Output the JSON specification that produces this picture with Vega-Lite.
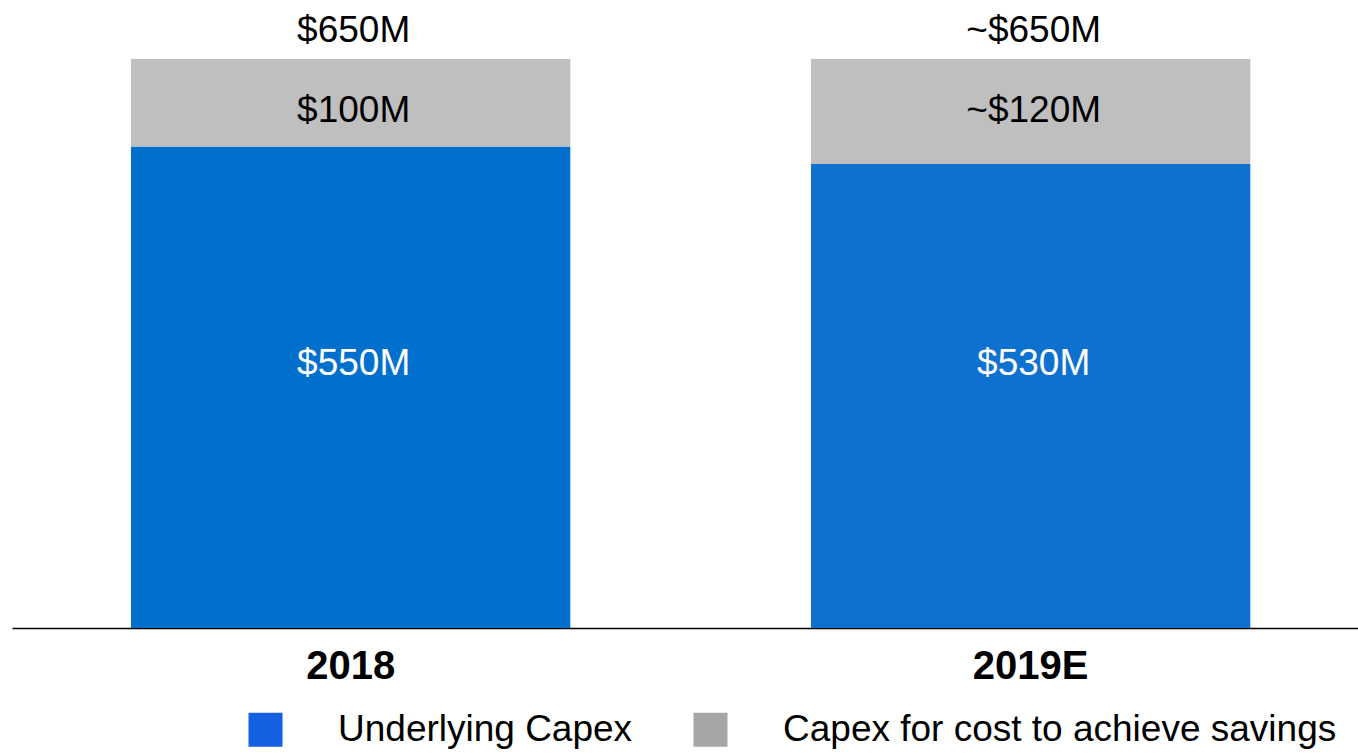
{
  "$schema": "https://vega.github.io/schema/vega-lite/v6.json",
  "width": 1346,
  "height": 569,
  "autosize": {"type": "none"},
  "padding": {"left": 12, "top": 59, "right": 0, "bottom": 125},
  "background": "white",
  "config": {"view": {"stroke": null}, "font": "Liberation Sans"},
  "datasets": {
    "bars": [
      {"year": "2018", "segment": "Underlying Capex", "series": "2018 Underlying Capex", "value": 550, "label": "$550M"},
      {"year": "2018", "segment": "Capex for cost to achieve savings", "series": "2018 Capex for cost to achieve savings", "value": 100, "label": "$100M"},
      {"year": "2019E", "segment": "Underlying Capex", "series": "2019E Underlying Capex", "value": 530, "label": "$530M"},
      {"year": "2019E", "segment": "Capex for cost to achieve savings", "series": "2019E Capex for cost to achieve savings", "value": 120, "label": "~$120M"}
    ],
    "totals": [
      {"year": "2018", "total": 650, "label": "$650M"},
      {"year": "2019E", "total": 650, "label": "~$650M"}
    ]
  },
  "encoding": {
    "x": {
      "field": "year",
      "type": "nominal",
      "sort": ["2018", "2019E"],
      "scale": {"paddingInner": 0.354, "paddingOuter": 0.1667, "align": 0.525},
      "axis": {
        "title": null,
        "labelAngle": 0,
        "labelFont": "Liberation Sans",
        "labelFontSize": 40,
        "labelFontWeight": "bold",
        "labelColor": "black",
        "labelPadding": 18,
        "ticks": false,
        "domainColor": "black",
        "domainWidth": 1.5,
        "grid": false
      }
    }
  },
  "layer": [
    {
      "data": {"name": "bars"},
      "mark": {"type": "bar"},
      "encoding": {
        "y": {"field": "value", "type": "quantitative", "stack": "zero", "scale": {"domain": [0, 650], "nice": false}, "axis": null},
        "color": {
          "field": "series",
          "type": "nominal",
          "scale": {
            "domain": ["2018 Underlying Capex", "2018 Capex for cost to achieve savings", "2019E Underlying Capex", "2019E Capex for cost to achieve savings"],
            "range": ["#0070CC", "#BFBFBF", "#0F71CF", "#BFBFBF"]
          },
          "legend": null
        },
        "order": {"field": "segment", "sort": "descending"}
      }
    },
    {
      "data": {"name": "bars"},
      "mark": {"type": "square", "opacity": 0},
      "encoding": {
        "color": {
          "field": "segment",
          "type": "nominal",
          "scale": {
            "domain": ["Underlying Capex", "Capex for cost to achieve savings"],
            "range": ["#1560E0", "#A6A6A6"]
          },
          "legend": {
            "title": null,
            "orient": "none",
            "direction": "horizontal",
            "legendX": 235,
            "legendY": 652,
            "padding": 0,
            "symbolType": "square",
            "symbolSize": 1156,
            "symbolOpacity": 1,
            "symbolStrokeWidth": 0,
            "labelFont": "Liberation Sans",
            "labelFontSize": 37,
            "labelColor": "black",
            "labelOffset": 54,
            "labelLimit": 1000,
            "columnPadding": 59
          }
        }
      }
    },
    {
      "data": {"name": "totals"},
      "mark": {"type": "text", "baseline": "alphabetic", "dy": -17, "dx": 3, "fontSize": 37, "font": "Liberation Sans", "color": "black"},
      "encoding": {
        "y": {"field": "total", "type": "quantitative"},
        "text": {"field": "label"}
      }
    },
    {
      "data": {"name": "bars"},
      "transform": [{"filter": "datum.segment === 'Capex for cost to achieve savings'"}],
      "mark": {"type": "text", "baseline": "alphabetic", "dy": 63, "dx": 3, "fontSize": 37, "font": "Liberation Sans", "color": "black"},
      "encoding": {
        "y": {"datum": 650, "type": "quantitative"},
        "text": {"field": "label"}
      }
    },
    {
      "data": {"name": "bars"},
      "transform": [{"filter": "datum.segment === 'Underlying Capex'"}],
      "mark": {"type": "text", "baseline": "alphabetic", "dy": -253, "dx": 3, "fontSize": 37, "font": "Liberation Sans", "color": "white"},
      "encoding": {
        "y": {"datum": 0, "type": "quantitative"},
        "text": {"field": "label"}
      }
    }
  ],
  "resolve": {"scale": {"color": "independent"}, "legend": {"color": "independent"}}
}
